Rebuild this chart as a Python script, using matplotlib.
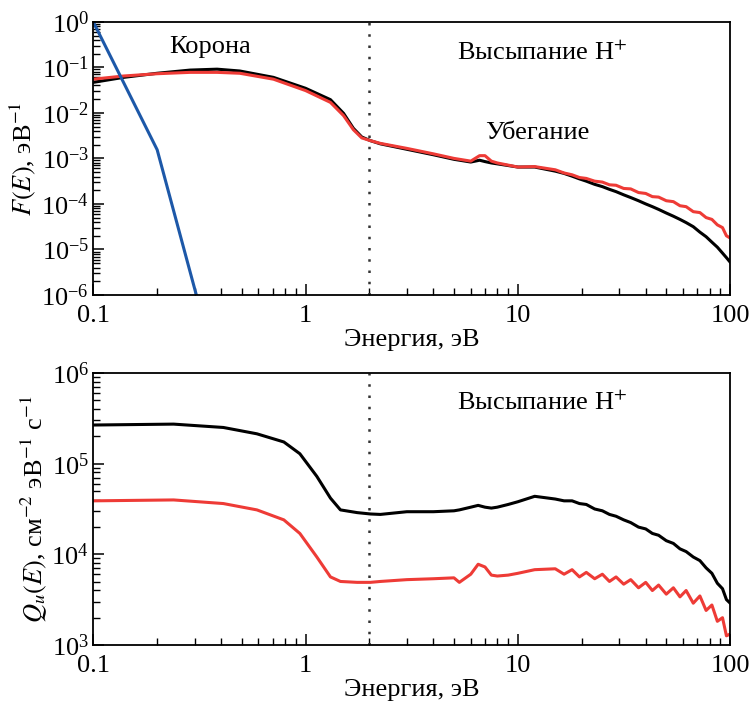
import numpy as np
import matplotlib.pyplot as plt
from matplotlib.ticker import FixedLocator, FuncFormatter, LogLocator

plt.rcParams['font.family'] = ['Liberation Serif', 'DejaVu Serif']
plt.rcParams['mathtext.fontset'] = 'stix'

# energies (eV) and log10 of the values
E_top = [0.1, 0.139, 0.2, 0.286, 0.383, 0.49, 0.706, 1.0, 1.31, 1.51, 1.68, 1.84, 2.02, 2.25, 3.0,
         4.0, 5.0, 6.0, 6.6, 7.0, 7.5, 8.0, 10.0, 12.0, 15.0, 16.5, 18.0, 19.5, 21.0, 23.0, 25.0,
         27.0, 29.0, 31.5, 34.0, 37.0, 40.0, 43.0, 46.0, 50.0, 54.0, 58.0, 62.0, 67.0, 72.0, 77.0,
         82.0, 87.0, 92.0, 96.0, 100.0]
logF_black = [-1.33, -1.22, -1.13, -1.06, -1.04, -1.08, -1.22, -1.46, -1.71, -2.01, -2.34, -2.53, -2.61,
              -2.68, -2.8, -2.92, -3.02, -3.08, -3.04, -3.07, -3.1, -3.12, -3.19, -3.19, -3.28, -3.33,
              -3.39, -3.45, -3.5, -3.57, -3.62, -3.68, -3.73, -3.8, -3.86, -3.93, -4.0, -4.06, -4.12,
              -4.2, -4.27, -4.34, -4.41, -4.5, -4.62, -4.72, -4.84, -4.95, -5.08, -5.18, -5.28]
logF_red = [-1.26, -1.19, -1.14, -1.11, -1.11, -1.13, -1.26, -1.51, -1.77, -2.06, -2.37, -2.55, -2.61,
            -2.67, -2.78, -2.9, -3.0, -3.06, -2.94, -2.94, -3.06, -3.1, -3.19, -3.18, -3.25, -3.32,
            -3.36, -3.42, -3.44, -3.5, -3.52, -3.58, -3.59, -3.66, -3.67, -3.75, -3.77, -3.84, -3.85,
            -3.93, -3.95, -4.04, -4.06, -4.17, -4.19, -4.3, -4.34, -4.46, -4.52, -4.7, -4.75]

E_blue = [0.1, 0.2, 0.29, 0.31]
logF_blue = [0.0, -2.81, -5.6, -6.1]

E_bot = [0.1, 0.239, 0.41, 0.59, 0.79, 0.94, 1.13, 1.31, 1.46, 1.75, 2.02, 2.25, 3.0, 4.0, 5.0, 5.3,
         6.0, 6.5, 7.0, 7.5, 8.0, 9.0, 10.0, 12.0, 15.0, 16.5, 18.0, 19.5, 21.0, 23.0, 25.0, 27.0,
         29.0, 31.5, 34.0, 37.0, 40.0, 43.0, 46.0, 50.0, 54.0, 58.0, 62.0, 67.0, 72.0, 77.0, 82.0,
         87.0, 92.0, 96.0, 100.0]
logQ_black = [5.427, 5.437, 5.40, 5.33, 5.24, 5.11, 4.86, 4.62, 4.49, 4.46, 4.445, 4.44, 4.47, 4.47,
              4.48, 4.49, 4.52, 4.54, 4.52, 4.51, 4.52, 4.55, 4.58, 4.64, 4.61, 4.59, 4.59, 4.56, 4.55,
              4.50, 4.48, 4.44, 4.42, 4.38, 4.35, 4.30, 4.28, 4.23, 4.21, 4.15, 4.12, 4.06, 4.03, 3.97,
              3.93, 3.85, 3.79, 3.68, 3.62, 3.50, 3.46]
logQ_red = [4.59, 4.60, 4.56, 4.49, 4.38, 4.23, 3.97, 3.75, 3.70, 3.69, 3.69, 3.70, 3.72, 3.73, 3.74,
            3.69, 3.78, 3.89, 3.86, 3.77, 3.76, 3.77, 3.79, 3.83, 3.84, 3.78, 3.83, 3.75, 3.80, 3.73,
            3.78, 3.70, 3.75, 3.67, 3.72, 3.63, 3.69, 3.60, 3.66, 3.56, 3.63, 3.53, 3.60, 3.46, 3.54,
            3.38, 3.44, 3.26, 3.30, 3.10, 3.12]

black = "#000000"
red = "#ee3b36"
blue = "#1d58a8"
fs = 19


def style(ax, ylo, yhi):
    ax.set_xscale('log')
    ax.set_yscale('log')
    ax.set_xlim(0.1, 100)
    ax.set_ylim(ylo, yhi)
    ax.tick_params(which='both', direction='in', top=False, right=False, labelsize=fs)
    ax.tick_params(which='major', length=8, width=1.1)
    ax.tick_params(which='minor', length=5, width=1.0)
    ax.tick_params(axis='x', pad=7)
    ax.tick_params(axis='y', pad=3)
    ax.xaxis.set_major_locator(FixedLocator([0.1, 1, 10, 100]))
    ax.xaxis.set_major_formatter(FuncFormatter(lambda v, p: "%g" % v))
    ax.yaxis.set_major_locator(LogLocator(base=10, numticks=20))
    ax.yaxis.set_minor_locator(LogLocator(base=10, subs=np.arange(2, 10), numticks=20))
    for s in ax.spines.values():
        s.set_linewidth(1.3)
    ax.axvline(2.0, color="#333333", ls=(0, (1, 3.5)), lw=1.8)
    ax.set_xlabel("Энергия, эВ", fontsize=fs, labelpad=2)


fig = plt.figure(figsize=(7.52, 7.04), dpi=100)
ax1 = fig.add_axes([0.124, 0.581, 0.847, 0.388])
ax2 = fig.add_axes([0.124, 0.084, 0.847, 0.386])

ax1.plot(E_top, 10 ** np.array(logF_black), color=black, lw=2.2)
ax1.plot(E_top, 10 ** np.array(logF_red), color=red, lw=2.2)
ax1.plot(E_blue, 10 ** np.array(logF_blue), color=blue, lw=2.2)
style(ax1, 1e-6, 1)
ax1.set_ylabel("$F(E)$, эВ$^{-1}$", fontsize=fs, labelpad=2)
ax1.text(0.356, 0.28, "Корона", fontsize=fs, ha='center', va='center')
ax1.text(13, 0.21, "Высыпание H$^{+}$", fontsize=fs, ha='center', va='center')
ax1.text(12.3, 0.0036, "Убегание", fontsize=fs, ha='center', va='center')

ax2.plot(E_bot, 10 ** np.array(logQ_black), color=black, lw=2.2)
ax2.plot(E_bot, 10 ** np.array(logQ_red), color=red, lw=2.2)
style(ax2, 1e3, 1e6)
ax2.set_ylabel("$Q_u(E)$, см$^{-2}$ эВ$^{-1}$ с$^{-1}$", fontsize=fs, labelpad=2)
ax2.text(13, 4.7e5, "Высыпание H$^{+}$", fontsize=fs, ha='center', va='center')

fig.savefig("out.png", dpi=100)
